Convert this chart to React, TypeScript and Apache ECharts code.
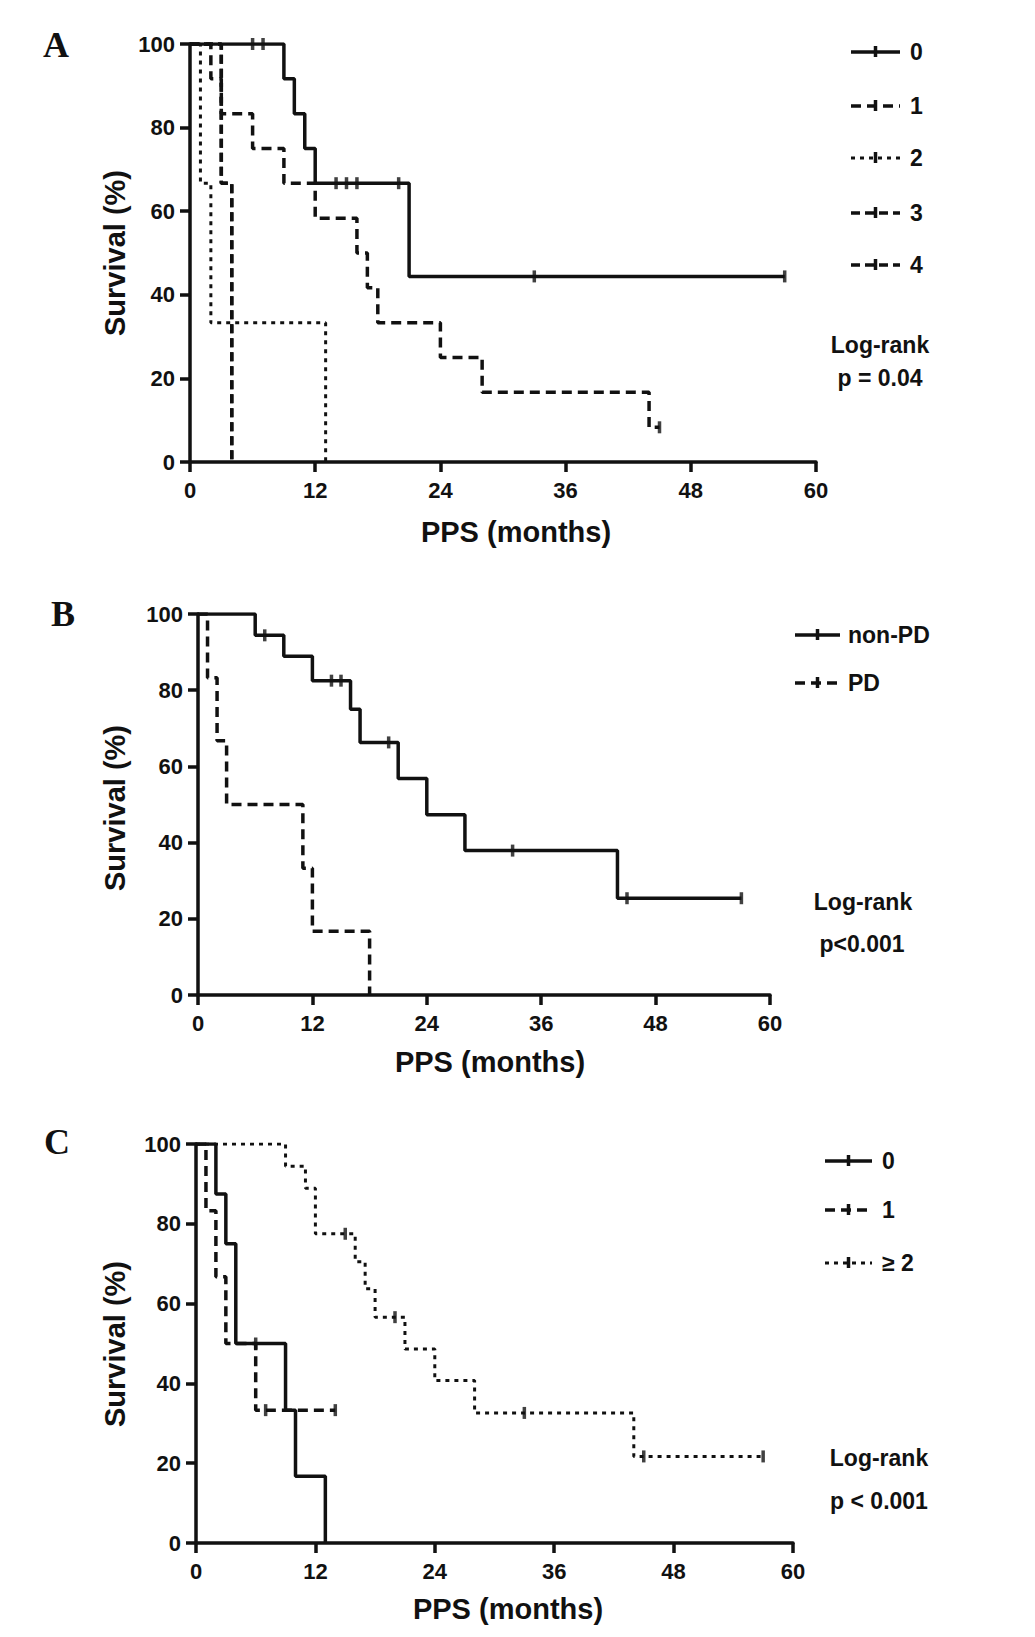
import React, { useEffect, useRef } from "react";
import * as echarts from "echarts";

// ---------------- DATA ----------------
const xTicks = [0, 12, 24, 36, 48, 60];
const yTicks = [0, 20, 40, 60, 80, 100];

// Panel A (groups 0..4)
const aNames = ["0", "1", "2", "3", "4"];
const aCurve0 = [[0, 100], [9, 91.7], [10, 83.3], [11, 75], [12, 66.7], [21, 44.4], [57, 44.4]];
const aCens0 = [[6, 100], [7, 100], [14, 66.7], [15, 66.7], [16, 66.7], [20, 66.7], [33, 44.4], [57, 44.4]];
const aCurve1 = [[0, 100], [2, 91.7], [3, 83.3], [6, 75], [9, 66.7], [12, 58.3], [16, 50], [17, 41.7], [18, 33.3], [24, 25], [28, 16.7], [44, 8.3], [45, 8.3]];
const aCens1 = [[45, 8.3]];
const aCurve2 = [[0, 100], [1, 66.7], [2, 33.3], [13, 0]];
const aCurve3 = [[0, 100], [3, 66.7], [4, 0]];
const aCurve4 = [[0, 100], [3, 66.7], [4, 0]];

// Panel B (non-PD vs PD)
const bNames = ["non-PD", "PD"];
const bCurveNonPD = [[0, 100], [6, 94.4], [9, 88.9], [12, 82.5], [16, 75], [17, 66.3], [21, 56.8], [24, 47.3], [28, 37.9], [44, 25.4], [57, 25.4]];
const bCensNonPD = [[7, 94.4], [14, 82.5], [15, 82.5], [20, 66.3], [33, 37.9], [45, 25.4], [57, 25.4]];
const bCurvePD = [[0, 100], [1, 83.3], [2, 66.7], [3, 50], [11, 33.3], [12, 16.7], [18, 0]];

// Panel C (0, 1, >=2)
const cNames = ["0", "1", "\u2265 2"];
const cCurve0 = [[0, 100], [2, 87.5], [3, 75], [4, 50], [9, 33.3], [10, 16.7], [13, 0]];
const cCens0 = [[6, 50]];
const cCurve1 = [[0, 100], [1, 83.3], [2, 66.7], [3, 50], [6, 33.3], [14, 33.3]];
const cCens1 = [[7, 33.3], [14, 33.3]];
const cCurve2 = [[0, 100], [9, 94.4], [11, 88.9], [12, 77.5], [16, 70.5], [17, 63.7], [18, 56.6], [21, 48.6], [24, 40.7], [28, 32.6], [44, 21.7], [57, 21.7]];
const cCens2 = [[15, 77.5], [20, 56.6], [33, 32.6], [45, 21.7], [57, 21.7]];

const panelLetters = ["A", "B", "C"];
const pValues = ["p = 0.04", "p<0.001", "p < 0.001"];

// ---------------- STYLE / LAYOUT ----------------
const INK = "#111";
const SANS = '"Liberation Sans", Arial, Helvetica, sans-serif';
const SERIF = '"Liberation Serif", "Times New Roman", serif';

const STYLES: Record<string, { type: any; width: number }> = {
  solid: { type: "solid", width: 3.5 },
  dash: { type: [10, 6], width: 3.5 },
  dot: { type: [4, 5], width: 3 },
  dash2: { type: [9, 5], width: 3.5 },
};

const grids = [
  { left: 190, top: 44, width: 626, height: 418 },
  { left: 198, top: 614, width: 572, height: 381 },
  { left: 196, top: 1144, width: 597, height: 399 },
];

function App() {
  const ref = useRef<HTMLDivElement>(null);

  useEffect(() => {
    if (!ref.current) return;
    const chart = echarts.init(ref.current, undefined, { renderer: "svg" });

    const xAxes = grids.map((_, i) => ({
      type: "value",
      gridIndex: i,
      min: xTicks[0],
      max: xTicks[xTicks.length - 1],
      interval: 12,
      axisLine: { show: true, onZero: false, lineStyle: { color: INK, width: 3.5 } },
      axisTick: { show: true, length: 10, lineStyle: { color: INK, width: 3.5 } },
      axisLabel: { margin: 17, color: INK, fontSize: 22, fontWeight: "bold", fontFamily: SANS },
      splitLine: { show: false },
    }));
    const yAxes = grids.map((_, i) => ({
      type: "value",
      gridIndex: i,
      min: yTicks[0],
      max: yTicks[yTicks.length - 1],
      interval: 20,
      axisLine: { show: true, onZero: false, lineStyle: { color: INK, width: 3.5 } },
      axisTick: { show: true, length: 10, lineStyle: { color: INK, width: 3.5 } },
      axisLabel: { margin: 15, color: INK, fontSize: 22, fontWeight: "bold", fontFamily: SANS },
      splitLine: { show: false },
    }));

    const curve = (data: number[][], g: number, style: string, name: string) => ({
      type: "line",
      name,
      xAxisIndex: g,
      yAxisIndex: g,
      data,
      step: "end",
      showSymbol: false,
      symbol: "none",
      lineStyle: { color: INK, width: STYLES[style].width, type: STYLES[style].type, cap: "butt" },
      silent: true,
      z: 3,
    });
    const cens = (data: number[][], g: number) => ({
      type: "scatter",
      xAxisIndex: g,
      yAxisIndex: g,
      data,
      symbol: "rect",
      symbolSize: [3.5, 12],
      itemStyle: { color: INK },
      silent: true,
      z: 4,
    });

    const series = [
      curve(aCurve4, 0, "dash2", aNames[4]),
      curve(aCurve3, 0, "dash2", aNames[3]),
      curve(aCurve2, 0, "dot", aNames[2]),
      curve(aCurve1, 0, "dash", aNames[1]),
      curve(aCurve0, 0, "solid", aNames[0]),
      cens(aCens0, 0),
      cens(aCens1, 0),
      curve(bCurvePD, 1, "dash", bNames[1]),
      curve(bCurveNonPD, 1, "solid", bNames[0]),
      cens(bCensNonPD, 1),
      curve(cCurve2, 2, "dot", cNames[2]),
      curve(cCurve1, 2, "dash", cNames[1]),
      curve(cCurve0, 2, "solid", cNames[0]),
      cens(cCens0, 2),
      cens(cCens1, 2),
      cens(cCens2, 2),
    ];

    // ---- graphics: legends, titles, letters ----
    const graphic: any[] = [];
    const text = (t: string, x: number, y: number, size: number, opts: any = {}) => ({
      type: "text",
      x,
      y,
      rotation: opts.rotation || 0,
      silent: true,
      style: {
        text: t,
        fill: INK,
        font: `bold ${size}px ${opts.family || SANS}`,
        align: opts.align || "center",
        verticalAlign: "middle",
      },
    });

    const legend = (names: string[], styles: string[], ys: number[], x1: number, x2: number, tx: number) => {
      names.forEach((n, i) => {
        const st = STYLES[styles[i]];
        const y = ys[i];
        graphic.push({
          type: "line",
          silent: true,
          shape: { x1, y1: y, x2, y2: y },
          style: { stroke: INK, lineWidth: st.width, lineDash: Array.isArray(st.type) ? st.type : null },
        });
        const xm = (x1 + x2) / 2;
        graphic.push({
          type: "line",
          silent: true,
          shape: { x1: xm, y1: y - 6, x2: xm, y2: y + 5 },
          style: { stroke: INK, lineWidth: 3.5 },
        });
        graphic.push(text(n, tx, y, 23, { align: "left" }));
      });
    };

    legend(aNames, ["solid", "dash", "dot", "dash2", "dash2"], [52, 106, 158, 213, 265], 851, 900, 910);
    legend(bNames, ["solid", "dash"], [635, 683], 795, 840, 848);
    legend(cNames, ["solid", "dash", "dot"], [1161, 1210, 1263], 825, 872, 882);

    // Log-rank
    graphic.push(text("Log-rank", 880, 345, 23));
    graphic.push(text(pValues[0], 880, 378, 23));
    graphic.push(text("Log-rank", 863, 902, 23));
    graphic.push(text(pValues[1], 862, 944, 23));
    graphic.push(text("Log-rank", 879, 1458, 23));
    graphic.push(text(pValues[2], 879, 1501, 23));

    // Axis titles
    const yTitles = [253, 808, 1344];
    const xTitles = [[516, 532], [490, 1062], [508, 1609]];
    yTitles.forEach((y) => graphic.push(text("Survival (%)", 115, y, 29, { rotation: Math.PI / 2 })));
    xTitles.forEach(([x, y]) => graphic.push(text("PPS (months)", x, y, 29)));

    // Panel letters
    const letterPos = [[56, 45], [63, 614], [57, 1142]];
    panelLetters.forEach((l, i) =>
      graphic.push(text(l, letterPos[i][0], letterPos[i][1], 36, { family: SERIF }))
    );

    chart.setOption({
      animation: false,
      backgroundColor: "#fff",
      grid: grids.map((g) => ({ ...g, containLabel: false })),
      xAxis: xAxes,
      yAxis: yAxes,
      series,
      graphic,
    });

    return () => chart.dispose();
  }, []);

  return (
    <div
      ref={ref}
      style={{ position: "absolute", left: 0, top: 0, width: 1035, height: 1637 }}
    />
  );
}

export default App;
